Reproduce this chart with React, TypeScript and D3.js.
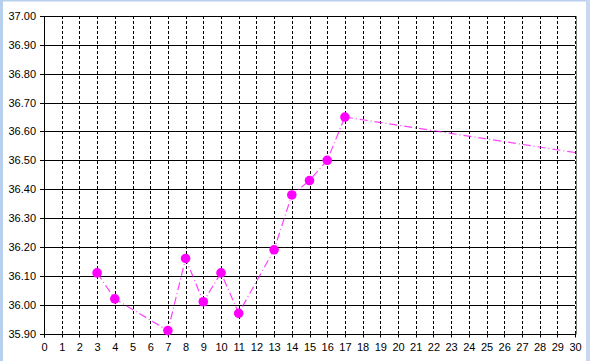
import React from "react";
import * as d3 from "d3";

const xTicks = d3.range(0, 31);
const yTicks = [35.9, 36.0, 36.1, 36.2, 36.3, 36.4, 36.5, 36.6, 36.7, 36.8, 36.9, 37.0];
const dayValues = [3, 4, 7, 8, 9, 10, 11, 13, 14, 15, 16, 17];
const tempValues = [36.11, 36.02, 35.91, 36.16, 36.01, 36.11, 35.97, 36.19, 36.38, 36.43, 36.5, 36.65];
const trendDays = [17, 30];
const trendValues = [36.65, 36.527];

export default function App() {
  const W = 590, H = 361;
  const x = d3.scaleLinear().domain([0, 30]).range([44, 575]);
  const y = d3.scaleLinear().domain([35.9, 37.0]).range([333.5, 16]);
  const pts: [number, number][] = dayValues.map((d, i) => [x(d), y(tempValues[i])]);
  const trend: [number, number][] = trendDays.map((d, i) => [x(d), y(trendValues[i])]);
  const line = d3.line();
  const pink = "#ff00ff";
  return (
    <svg width={W} height={H} style={{ position: "absolute", left: 0, top: 0, background: "#fff" }}
      fontFamily="'Liberation Sans', Arial, sans-serif" fontSize={11}>
      <rect x={0} y={0} width={W} height={H} fill="#fff" />
      <rect x={0} y={0} width={3} height={H} fill="#b9cfee" />
      <rect x={0} y={0} width={W} height={1.5} fill="#b9cfee" />
      <rect x={586} y={0} width={4} height={H} fill="#c8d8f0" />
      {/* horizontal gridlines */}
      {yTicks.map((t) => (
        <line key={"h" + t} x1={40} x2={575} y1={Math.round(y(t)) + 0.5} y2={Math.round(y(t)) + 0.5} stroke="#000" strokeWidth={1} />
      ))}
      {/* vertical gridlines */}
      {xTicks.slice(1).map((t) => (
        <line key={"v" + t} x1={Math.round(x(t)) + 0.5} x2={Math.round(x(t)) + 0.5} y1={y(37)} y2={y(35.9)}
          stroke="#000" strokeWidth={1} strokeDasharray="3,2" />
      ))}
      <line x1={576.5} x2={576.5} y1={y(37)} y2={y(35.9) + 1} stroke="#808080" strokeWidth={1} />
      {/* axes */}
      <line x1={44.5} x2={44.5} y1={y(37)} y2={y(35.9) + 4} stroke="#000" />
      <line x1={44} x2={576} y1={Math.round(y(35.9)) + 0.5} y2={Math.round(y(35.9)) + 0.5} stroke="#000" />
      {xTicks.map((t) => (
        <line key={"xt" + t} x1={Math.round(x(t)) + 0.5} x2={Math.round(x(t)) + 0.5} y1={y(35.9)} y2={y(35.9) + 4} stroke="#000" />
      ))}
      {yTicks.map((t) => (
        <text key={"yl" + t} x={36} y={y(t) + 4} textAnchor="end" fill="#000">{t.toFixed(2)}</text>
      ))}
      {xTicks.map((t) => (
        <text key={"xl" + t} x={x(t) + 0.5} y={351} textAnchor="middle" fill="#000">{t}</text>
      ))}
      {/* data line */}
      <path d={line(pts) || ""} fill="none" stroke={pink} strokeOpacity={0.75} strokeWidth={1.2} strokeDasharray="8,3,1,3" />
      <path d={line(trend) || ""} fill="none" stroke={pink} strokeOpacity={0.75} strokeWidth={1.2} strokeDasharray="8,3,1,3" />
      {pts.map((p, i) => (
        <circle key={"c" + i} cx={p[0]} cy={p[1]} r={4.8} fill={pink} />
      ))}
    </svg>
  );
}
